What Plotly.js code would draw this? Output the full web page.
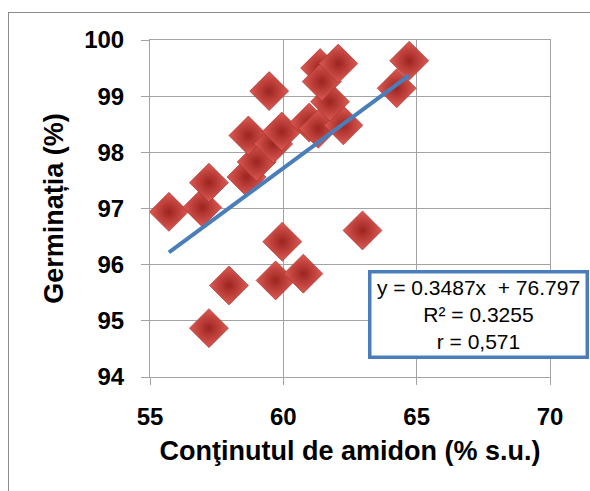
<!DOCTYPE html>
<html>
<head>
<meta charset="utf-8">
<script src="https://cdn.plot.ly/plotly-3.0.1.min.js"></script>
<style>
  html, body { margin: 0; padding: 0; background: #ffffff; overflow: hidden; }
  #frame { position: absolute; left: 8px; top: 12px; width: 640px; height: 540px;
           border-left: 1.5px solid #8c8c8c; border-top: 1.5px solid #8c8c8c; }
  #chart { position: absolute; left: 0; top: 0; width: 590px; height: 491px; }
</style>
</head>
<body>
<div id="frame"></div>
<div id="chart"></div>
<script>
// Starch content (% dry matter) vs germination (%)
const starch = [55.71, 56.96, 57.21, 57.21, 57.96, 58.62, 59.00, 58.69, 59.47, 59.62, 59.94, 59.96,
                59.71, 60.75, 60.97, 61.31, 62.25, 61.75, 61.38, 61.44, 62.06, 62.97, 64.25, 64.72];
const germination = [96.94, 97.02, 97.46, 94.87, 95.63, 97.56, 97.83, 98.30, 99.09, 98.15, 98.37, 96.41,
                     95.72, 95.84, 98.53, 98.42, 98.48, 98.90, 99.50, 99.26, 99.58, 96.61, 99.14, 99.63];
// Linear trend line endpoints
const trendX = [55.71, 64.72];
const trendY = [96.22, 99.37];
const xTicks = [55, 60, 65, 70];
const yTicks = [94, 95, 96, 97, 98, 99, 100];
const eqLines = ["y = 0.3487x  + 76.797", "R² = 0.3255", "r = 0,571"];
const xTitle = "Conţinutul de amidon (% s.u.)";
const yTitle = "Germinația (%)";

const gridCol = '#a3a3a3';
const fam = '"Liberation Sans", Arial, sans-serif';
const traces = [
  {
    x: starch, y: germination, type: 'scatter', mode: 'markers',
    marker: { symbol: 'diamond', size: 30, color: '#de5a53',
              gradient: { type: 'radial', color: '#9c2420' },
              line: { color: '#9a2a26', width: 0.6 } },
    hoverinfo: 'x+y', showlegend: false
  },
  {
    x: trendX, y: trendY, type: 'scatter', mode: 'lines',
    line: { color: '#4a7ebb', width: 4 },
    showlegend: false, hoverinfo: 'skip'
  }
];

const layout = {
  width: 590, height: 491,
  margin: { l: 150, r: 40, t: 40, b: 114 },
  paper_bgcolor: 'rgba(0,0,0,0)', plot_bgcolor: '#ffffff',
  font: { family: fam, color: '#000000' },
  xaxis: {
    range: [55, 70], tickvals: xTicks, ticktext: xTicks.map(String),
    showgrid: true, gridcolor: gridCol, gridwidth: 1,
    showline: true, linecolor: gridCol, linewidth: 1, mirror: true,
    ticks: 'outside', ticklen: 7, tickcolor: gridCol, tickwidth: 1,
    ticklabelstandoff: 11,
    zeroline: false,
    tickfont: { size: 24, family: fam, weight: 'bold', color: '#000' },
    title: { text: '<b>' + xTitle + '</b>', standoff: 12,
             font: { size: 27, family: fam, color: '#000' } }
  },
  yaxis: {
    range: [94, 100], tickvals: yTicks, ticktext: yTicks.map(String),
    showgrid: true, gridcolor: gridCol, gridwidth: 1,
    showline: true, linecolor: gridCol, linewidth: 1, mirror: true,
    ticks: 'outside', ticklen: 8, tickcolor: gridCol, tickwidth: 1,
    ticklabelstandoff: 12,
    zeroline: false,
    tickfont: { size: 24, family: fam, weight: 'bold', color: '#000' },
    title: { text: '<b>' + yTitle + '</b>', standoff: 12,
             font: { size: 27, family: fam, color: '#000' } }
  },
  annotations: [{
    xref: 'paper', yref: 'paper', x: 0.821, y: 0.184, xanchor: 'center', yanchor: 'middle',
    text: eqLines.join('<br>'), showarrow: false, align: 'center',
    font: { size: 21, family: fam, color: '#000' },
    bgcolor: '#ffffff', bordercolor: '#4a7ebb', borderwidth: 3.5, borderpad: 2,
    width: 210
  }]
};

Plotly.newPlot('chart', traces, layout, { staticPlot: true, displayModeBar: false });
</script>
</body>
</html>
